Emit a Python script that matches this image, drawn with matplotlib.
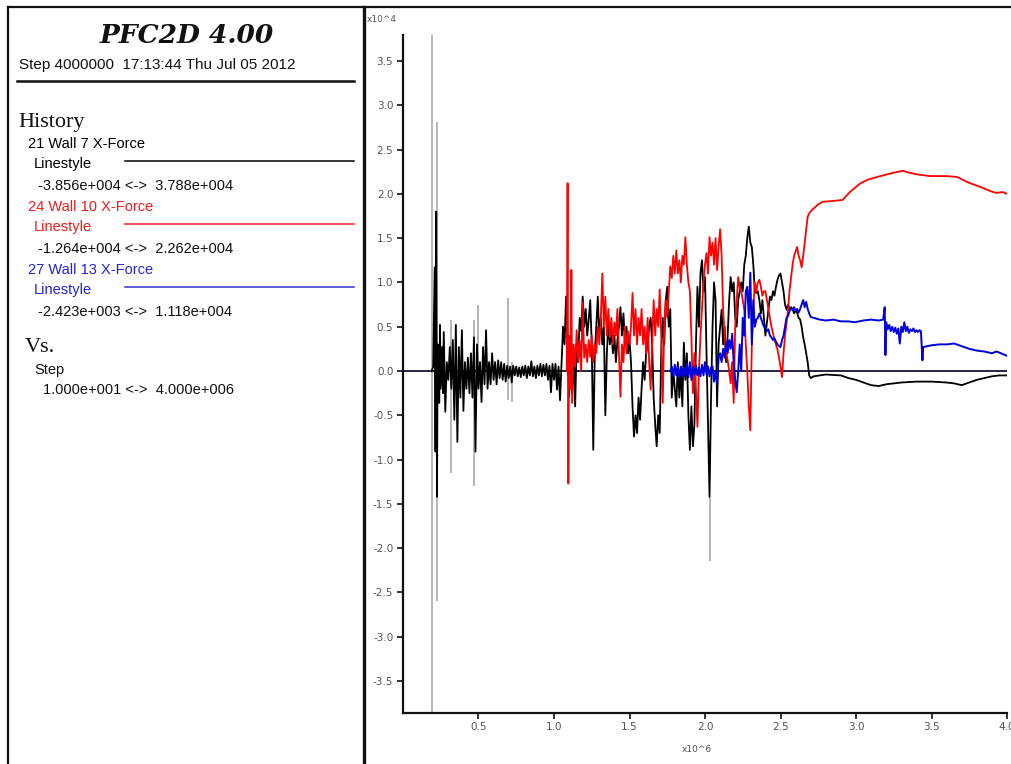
import matplotlib
matplotlib.use("Agg")
import matplotlib.pyplot as plt
from matplotlib.lines import Line2D

# ---------------- data (x in 1e6 steps, y in 1e4 force) ----------------
black_x = [0.19, 0.20, 0.21, 0.215, 0.22, 0.225, 0.23, 0.24, 0.245, 0.25, 0.26, 0.265, 0.27, 0.28, 0.29,
           0.30, 0.31, 0.32, 0.33, 0.34, 0.35, 0.36, 0.37, 0.38, 0.39, 0.40, 0.41, 0.42, 0.43, 0.44,
           0.45, 0.46, 0.47, 0.48, 0.49, 0.50, 0.51, 0.52, 0.53, 0.54, 0.55, 0.56, 0.57, 0.58, 0.59,
           0.60, 0.61, 0.62, 0.63, 0.64, 0.65, 0.66, 0.67, 0.68, 0.69, 0.70, 0.71, 0.72, 0.73, 0.74,
           0.75, 0.76, 0.77, 0.78, 0.79, 0.80, 0.81, 0.82, 0.83, 0.84, 0.85, 0.86, 0.87, 0.88, 0.89,
           0.90, 0.91, 0.92, 0.93, 0.94, 0.95, 0.96, 0.97, 0.98, 0.99, 1.00, 1.01, 1.02, 1.03, 1.04,
           1.05, 1.06, 1.07, 1.08, 1.09, 1.10, 1.11, 1.12, 1.13, 1.14, 1.15, 1.16, 1.17, 1.18, 1.19,
           1.20, 1.21, 1.22, 1.23, 1.24, 1.25, 1.26, 1.27, 1.28, 1.29, 1.30, 1.31, 1.32, 1.33, 1.34,
           1.35, 1.36, 1.37, 1.38, 1.39, 1.40, 1.41, 1.42, 1.43, 1.44, 1.45, 1.46, 1.47, 1.48, 1.49,
           1.50, 1.51, 1.52, 1.53, 1.54, 1.55, 1.56, 1.57, 1.58, 1.59, 1.60, 1.61, 1.62, 1.63, 1.64,
           1.65, 1.66, 1.67, 1.68, 1.69, 1.70, 1.71, 1.72, 1.73, 1.74, 1.75, 1.76, 1.77, 1.78, 1.79,
           1.80, 1.81, 1.82, 1.83, 1.84, 1.85, 1.86, 1.87, 1.88, 1.89, 1.90, 1.91, 1.92, 1.93, 1.94,
           1.95, 1.96, 1.97, 1.98, 1.99, 2.00, 2.01, 2.02, 2.03, 2.04, 2.05, 2.06, 2.07, 2.08, 2.09,
           2.10, 2.11, 2.12, 2.13, 2.14, 2.15, 2.16, 2.17, 2.18, 2.19, 2.20, 2.21, 2.22, 2.23, 2.24,
           2.25, 2.26, 2.27, 2.28, 2.29, 2.30, 2.31, 2.32, 2.33, 2.34, 2.35, 2.36, 2.37, 2.38, 2.39,
           2.40, 2.41, 2.42, 2.43, 2.44, 2.45, 2.46, 2.47, 2.48, 2.49, 2.50, 2.51, 2.52, 2.53, 2.54,
           2.55, 2.56, 2.57, 2.58, 2.59, 2.60, 2.61, 2.62, 2.63, 2.64, 2.65, 2.66, 2.67, 2.68, 2.69,
           2.70, 2.72, 2.80, 2.90, 2.95, 3.00, 3.10, 3.15, 3.20, 3.30, 3.40, 3.50, 3.60, 3.65, 3.70,
           3.75, 3.80, 3.85, 3.90, 3.95, 4.00]
black_y = [0.0, 0.05, 1.17, -0.91, 1.8, -1.42, 0.3, -0.36, 0.52, -0.2, 0.27, -0.25, 0.44, -0.46, 0.1,
           -0.1, 0.27, -0.2, 0.35, -0.55, 0.52, -0.8, 0.27, -0.3, 0.46, -0.45, 0.1, -0.2, 0.15, -0.25,
           0.2, -0.3, 0.38, -0.91, 0.3, -0.2, 0.1, -0.35, 0.27, -0.15, 0.46, -0.2, 0.1, -0.15, 0.2,
           -0.1, 0.1, -0.15, 0.12, -0.08, 0.1, -0.1, 0.08, -0.12, 0.06, -0.08, 0.05, -0.13, 0.06, -0.05,
           0.05, -0.06, 0.04, -0.07, 0.05, -0.05, 0.06, -0.08, 0.05, -0.05, 0.11, -0.06, 0.05, -0.08, 0.06,
           -0.05, 0.08, -0.06, 0.07, -0.05, 0.08, -0.1, 0.06, -0.24, 0.08, -0.1, 0.08, -0.21, 0.05, -0.33,
           0.1, 0.5, 0.3, 0.84, 0.2, -0.29, 0.1, -0.25, 0.2, -0.4, 0.3, 0.1, 0.6, 0.45, 0.84,
           0.5, 0.7, 0.4, 0.58, 0.8, 0.3, -0.89, 0.2, 0.5, 0.84, 0.4, 0.6, 0.3, 0.5, -0.5,
           0.2, 0.55, 0.3, 0.45, 0.2, 0.4, 0.1, 0.35, 0.5, 0.72, 0.4, 0.65, 0.3, 0.5, 0.2,
           0.35, 0.1, -0.4, -0.74, -0.5, -0.7, -0.3, -0.55, -0.2, 0.1, -0.1, 0.2, 0.28, 0.5, 0.6,
           0.3, -0.3, -0.6, -0.85, -0.5, -0.7, 0.2, 0.6, 0.3, 0.8, 0.95, 0.5, 0.7, -0.3, 0.0,
           -0.2, -0.4, 0.1, -0.3, 0.0, -0.4, 0.32, -0.1, 0.2, -0.5, -0.89, -0.4, -0.85, -0.6, 0.3,
           0.95, 0.5, 1.1, 1.25, 0.9, 1.06, 0.2, -0.59, -1.42, -0.3, 0.5, 1.0, 0.8, -0.4, 0.3,
           0.5, 0.69, 0.3, 0.5, 0.1, 0.4, 0.8, 1.06, 0.9, 1.0, 0.6, 0.5, 0.8, 0.9, 1.0,
           0.9, 1.2, 1.3, 1.5, 1.63, 1.45, 1.4, 1.2, 0.9, 0.88, 0.9, 0.8, 0.65, 0.8, 0.6,
           0.4, 0.55, 0.7, 0.84, 0.8, 0.9, 0.85, 0.95, 1.03, 1.08, 1.1, 1.0, 0.9, 0.75, 0.69,
           0.75, 0.7, 0.72, 0.7, 0.65, 0.68, 0.66, 0.6, 0.58, 0.5, 0.38, 0.3, 0.2, 0.1, -0.05,
           -0.08, -0.06, -0.04, -0.05, -0.08, -0.1, -0.16, -0.17, -0.15, -0.13, -0.12, -0.12, -0.13, -0.14, -0.16,
           -0.13, -0.10, -0.08, -0.06, -0.05, -0.05]

# thin spikes of the black history (drawn grey, sub-pixel peaks)
spike_x = [0.19, 0.225, 0.315, 0.47, 0.495, 0.695, 0.72, 2.03]
spike_lo = [-3.856, -2.6, -1.15, -1.3, -0.2, -0.33, -0.35, -2.15]
spike_hi = [3.788, 2.81, 0.58, 0.58, 0.74, 0.82, 0.1, -1.42]

red_x = [1.085, 1.09, 1.095, 1.10, 1.11, 1.115, 1.12, 1.13, 1.14, 1.15, 1.16, 1.17, 1.18, 1.19, 1.20,
         1.21, 1.22, 1.23, 1.24, 1.25, 1.26, 1.27, 1.28, 1.29, 1.30, 1.31, 1.32, 1.33, 1.34, 1.35,
         1.36, 1.37, 1.38, 1.39, 1.40, 1.41, 1.42, 1.43, 1.44, 1.45, 1.46, 1.47, 1.48, 1.49, 1.50,
         1.51, 1.52, 1.53, 1.54, 1.55, 1.56, 1.57, 1.58, 1.59, 1.60, 1.61, 1.62, 1.63, 1.64, 1.65,
         1.66, 1.67, 1.68, 1.69, 1.70, 1.71, 1.72, 1.73, 1.74, 1.75, 1.76, 1.77, 1.78, 1.79, 1.80,
         1.81, 1.82, 1.83, 1.84, 1.85, 1.86, 1.87, 1.88, 1.89, 1.90, 1.91, 1.92, 1.93, 1.94, 1.95,
         1.96, 1.97, 1.98, 1.99, 2.00, 2.01, 2.02, 2.03, 2.04, 2.05, 2.06, 2.07, 2.08, 2.09, 2.10,
         2.11, 2.12, 2.13, 2.14, 2.15, 2.16, 2.17, 2.18, 2.19, 2.20, 2.21, 2.22, 2.23, 2.24, 2.25,
         2.26, 2.27, 2.28, 2.29, 2.30, 2.31, 2.32, 2.33, 2.34, 2.35, 2.36, 2.37, 2.38, 2.39, 2.40,
         2.41, 2.42, 2.43, 2.44, 2.45, 2.46, 2.47, 2.48, 2.49, 2.50, 2.51, 2.52, 2.53, 2.54, 2.55,
         2.56, 2.57, 2.58, 2.59, 2.60, 2.61, 2.62, 2.63, 2.64, 2.65, 2.66, 2.67, 2.68, 2.69, 2.71,
         2.75, 2.78, 2.85, 2.91, 2.96, 3.03, 3.08, 3.14, 3.23, 3.31, 3.35, 3.40, 3.49, 3.60, 3.67,
         3.74, 3.82, 3.89, 3.93, 3.97, 4.00]
red_y = [0.0, 2.12, -1.27, 0.4, -0.2, 1.14, -0.36, 0.3, 0.05, 0.46, 0.1, 0.35, 0.0, 0.77, 0.15,
         0.3, 0.1, 0.35, 0.16, 0.4, 0.1, 0.3, 0.2, 0.5, 0.3, 0.6, 1.1, 0.5, 0.84, 0.4,
         0.7, 0.38, 0.6, 0.3, 0.55, 0.4, 0.7, 0.2, -0.29, 0.3, 0.1, 0.5, 0.2, 0.45, 0.3,
         0.5, 0.88, 0.4, 0.7, 0.3, 0.6, 0.4, 0.7, 0.3, 0.5, 0.2, 0.6, 0.1, -0.21, 0.3,
         0.8, 0.4, 0.7, 0.5, 0.92, 0.4, -0.36, 0.5, 0.8, 0.6, 0.9, 1.18, 1.05, 1.3, 1.1,
         1.36, 1.1, 1.25, 1.0, 1.3, 1.2, 1.51, 1.2, 1.0, 0.9, 0.38, -0.25, 0.2, -0.2, -0.63,
         0.0, 0.4, 0.7, 1.0, 1.2, 1.33, 1.1, 1.51, 1.3, 1.45, 1.2, 1.5, 1.14, 1.4, 1.6,
         1.3, 0.69, 0.4, 0.2, 0.12, 0.0, -0.14, 0.1, -0.36, 0.5, 0.8, 1.06, 0.95, 0.9, 0.8,
         0.69, 0.3, 0.0, -0.4, -0.67, 0.3, 0.7, 1.0, 0.9, 1.0, 1.03, 0.95, 0.85, 0.9, 0.9,
         0.8, 0.7, 0.6, 0.5, 0.43, 0.35, 0.3, 0.24, 0.15, 0.05, -0.07, 0.2, 0.4, 0.55, 0.69,
         0.91, 1.05, 1.2, 1.3, 1.35, 1.4, 1.3, 1.25, 1.17, 1.3, 1.44, 1.6, 1.74, 1.78, 1.82,
         1.88, 1.91, 1.92, 1.93, 2.02, 2.12, 2.16, 2.19, 2.23, 2.26, 2.24, 2.22, 2.2, 2.2, 2.19,
         2.13, 2.08, 2.03, 2.01, 2.02, 2.0]

blue_x = [1.77, 1.78, 1.79, 1.80, 1.81, 1.82, 1.83, 1.84, 1.85, 1.86, 1.87, 1.88, 1.89, 1.90, 1.91,
          1.92, 1.93, 1.94, 1.95, 1.96, 1.97, 1.98, 1.99, 2.00, 2.01, 2.02, 2.03, 2.04, 2.05, 2.06,
          2.07, 2.08, 2.09, 2.10, 2.11, 2.12, 2.13, 2.14, 2.15, 2.16, 2.17, 2.18, 2.19, 2.20, 2.21,
          2.22, 2.23, 2.24, 2.25, 2.26, 2.27, 2.28, 2.29, 2.30, 2.31, 2.32, 2.33, 2.34, 2.35, 2.36,
          2.37, 2.38, 2.39, 2.40, 2.41, 2.42, 2.43, 2.44, 2.45, 2.46, 2.47, 2.48, 2.49, 2.50, 2.51,
          2.52, 2.53, 2.54, 2.55, 2.56, 2.57, 2.58, 2.59, 2.60, 2.61, 2.62, 2.63, 2.64, 2.65, 2.66,
          2.67, 2.68, 2.69, 2.70, 2.72, 2.76, 2.80, 2.85, 2.90, 2.95, 2.99, 3.05, 3.10, 3.15, 3.18,
          3.19, 3.195, 3.20, 3.21, 3.22, 3.23, 3.24, 3.25, 3.26, 3.27, 3.28, 3.29, 3.30, 3.31, 3.32,
          3.33, 3.34, 3.35, 3.36, 3.37, 3.38, 3.39, 3.40, 3.41, 3.42, 3.43, 3.44, 3.445, 3.50, 3.55,
          3.60, 3.65, 3.70, 3.75, 3.80, 3.85, 3.90, 3.93, 3.96, 4.00]
blue_y = [0.0, 0.05, -0.06, 0.07, -0.05, 0.06, -0.08, 0.05, -0.05, 0.04, -0.06, 0.08, -0.07, 0.1, -0.1,
          0.05, -0.04, 0.06, -0.05, 0.04, -0.06, 0.07, -0.05, 0.1, -0.04, 0.05, -0.06, 0.04, 0.05, -0.12,
          0.0, -0.15, 0.15, 0.2, 0.1, 0.25, 0.15, 0.32, 0.2, 0.35, 0.25, 0.42, 0.1, -0.1, -0.24,
          0.0, 0.3, 0.0, 0.6, 0.4, 0.9, 0.95, 0.6, 1.11, 0.3, 0.8, 0.5, 0.58, 0.6, 0.65,
          0.6, 0.55, 0.5, 0.5, 0.45, 0.47, 0.4, 0.38, 0.35, 0.37, 0.33, 0.3, 0.28, 0.27, 0.35,
          0.4, 0.5, 0.6, 0.62, 0.68, 0.7, 0.69, 0.72, 0.68, 0.7, 0.66, 0.7, 0.75, 0.8, 0.72,
          0.78, 0.7, 0.65, 0.61, 0.6, 0.58, 0.57, 0.58, 0.56, 0.56, 0.55, 0.57, 0.58, 0.57, 0.58,
          0.72, 0.18, 0.55, 0.47, 0.52, 0.45, 0.5, 0.44, 0.49, 0.42, 0.48, 0.31, 0.5, 0.44, 0.55,
          0.45, 0.5, 0.43, 0.47, 0.45, 0.48, 0.44, 0.46, 0.44, 0.46, 0.45, 0.12, 0.27, 0.29, 0.3,
          0.3, 0.31, 0.28, 0.25, 0.23, 0.22, 0.2, 0.22, 0.2, 0.17]

y_ticks = [-3.5, -3.0, -2.5, -2.0, -1.5, -1.0, -0.5, 0.0, 0.5, 1.0, 1.5, 2.0, 2.5, 3.0, 3.5]
x_ticks = [0.5, 1.0, 1.5, 2.0, 2.5, 3.0, 3.5, 4.0]

legend_lines = [
    ("21 Wall 7 X-Force", "-3.856e+004 <->  3.788e+004", "#000000", "#000000"),
    ("24 Wall 10 X-Force", "-1.264e+004 <->  2.262e+004", "#ee1c1c", "#ee1c1c"),
    ("27 Wall 13 X-Force", "-2.423e+003 <->  1.118e+004", "#2222dd", "#3333cc"),
]

# ---------------- figure ----------------
W, H = 1012, 764
fig = plt.figure(figsize=(W / 100, H / 100), dpi=100)
fig.patch.set_facecolor("white")


def fx(px):
    return px / W


def fy(py):
    return 1 - py / H


ax = fig.add_axes([fx(403), fy(712.6), fx(1007) - fx(403), fy(35.4) - fy(712.6)])
ax.set_xlim(0, 4.0)
ax.set_ylim(-3.856, 3.788)
for s in ("top", "right"):
    ax.spines[s].set_visible(False)
for s in ("left", "bottom"):
    ax.spines[s].set_linewidth(1.6)
    ax.spines[s].set_color("#111111")
ax.set_xticks(x_ticks)
ax.set_yticks(y_ticks)
ax.set_xticklabels([f"{v:.1f}" for v in x_ticks])
ax.set_yticklabels([f"{v:.1f}" for v in y_ticks])
ax.tick_params(axis="both", direction="out", length=4, width=1.2, labelsize=7.5, colors="#111111",
               labelcolor="#555555", pad=3)

ax.vlines(spike_x, spike_lo, spike_hi, colors="#b0b0b0", linewidth=1.3, zorder=1)
ax.axhline(0, color="#141433", linewidth=1.3, zorder=2)
ax.plot(black_x, black_y, color="#000000", linewidth=1.3, zorder=3)
ax.plot(red_x, red_y, color="#ff0000", linewidth=1.3, zorder=4)
ax.plot(blue_x, blue_y, color="#0000dd", linewidth=1.4, zorder=5)

fig.text(fx(367), fy(20), "x10^4", fontsize=6.5, color="#555555", va="center", ha="left")
fig.text(fx(697), fy(750), "x10^6", fontsize=6.5, color="#555555", va="center", ha="center")

# ---------------- frame lines ----------------
fig.add_artist(Line2D([fx(8), fx(1012)], [fy(7), fy(7)], color="#111111", linewidth=1.6))
fig.add_artist(Line2D([fx(8), fx(8)], [fy(7), fy(764)], color="#111111", linewidth=1.6))
fig.add_artist(Line2D([fx(364), fx(364)], [fy(7), fy(764)], color="#111111", linewidth=2.4))

# ---------------- left info panel ----------------
fig.text(fx(187), fy(43), "PFC2D 4.00", fontsize=19, fontweight="bold", fontstyle="italic",
         family="DejaVu Serif", ha="center", va="baseline", color="#111111")
fig.text(fx(19), fy(69), "Step 4000000  17:13:44 Thu Jul 05 2012", fontsize=11,
         family="Liberation Sans", ha="left", va="baseline", color="#111111")
fig.add_artist(Line2D([fx(17), fx(354)], [fy(81), fy(81)], color="#111111", linewidth=1.8))
fig.text(fx(18), fy(127), "History", fontsize=16, family="Liberation Serif", ha="left",
         va="baseline", color="#111111")

base = [148, 211, 274]
for (name, rng, col, lcol), b in zip(legend_lines, base):
    fig.text(fx(28), fy(b), name, fontsize=10.5, family="Liberation Sans", ha="left",
             va="baseline", color=col)
    fig.text(fx(34), fy(b + 20), "Linestyle", fontsize=10.5, family="Liberation Sans",
             ha="left", va="baseline", color=col)
    fig.add_artist(Line2D([fx(125), fx(354)], [fy(b + 13), fy(b + 13)], color=lcol, linewidth=1.1))
    fig.text(fx(38), fy(b + 42), rng, fontsize=10.5, family="Liberation Sans", ha="left",
             va="baseline", color="#111111")

fig.text(fx(25), fy(352), "Vs.", fontsize=16, family="Liberation Serif", ha="left",
         va="baseline", color="#111111")
fig.text(fx(34), fy(374), "Step", fontsize=10.5, family="Liberation Sans", ha="left",
         va="baseline", color="#111111")
fig.text(fx(43), fy(394), "1.000e+001 <->  4.000e+006", fontsize=10.5, family="Liberation Sans",
         ha="left", va="baseline", color="#111111")

fig.savefig("out.png", dpi=100, facecolor="white")
